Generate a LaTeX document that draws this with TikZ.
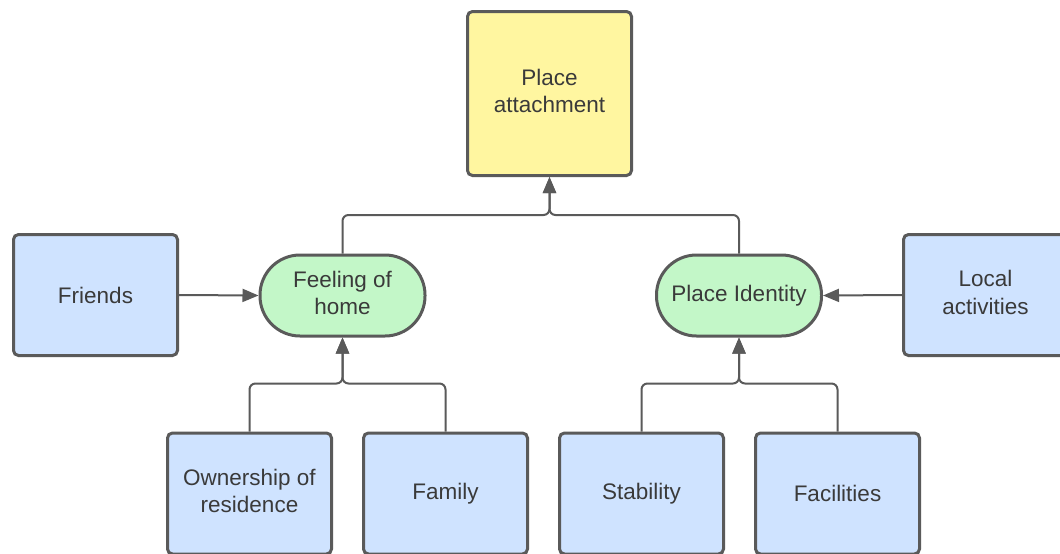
\documentclass[tikz,border=0pt]{standalone}
\usepackage{fontspec}
\setmainfont{Liberation Sans}
\usetikzlibrary{arrows.meta,calc}
\definecolor{strk}{HTML}{5A5A5A}
\definecolor{txt}{HTML}{3A3A3A}
\definecolor{bluef}{HTML}{CFE3FF}
\definecolor{greenf}{HTML}{C3F7C8}
\definecolor{yellowf}{HTML}{FFF6A0}
\newcommand{\dstr}{\rule[-5pt]{0pt}{1pt}}
\tikzset{
  base/.style={draw=strk, line width=3pt, text=txt, align=center,
    font=\fontsize{22.5}{27.5}\selectfont, inner sep=0pt},
  bluebox/.style={base, fill=bluef, rounded corners=5pt, minimum width=164pt, minimum height=121pt},
  yellowbox/.style={base, fill=yellowf, rounded corners=5pt, minimum width=164pt, minimum height=164pt},
  pill/.style={base, fill=greenf, rounded corners=40pt, minimum width=165pt, minimum height=81pt},
  conn/.style={draw=strk, line width=2pt, rounded corners=6pt},
  arr/.style={conn, -{Triangle[length=16pt,width=13pt]}}
}
\begin{document}
\begin{tikzpicture}[x=1pt,y=-1pt]
\clip (0,0) rectangle (1060,554);
\fill[white] (0,0) rectangle (1060,554);
\node[yellowbox] (pa) at (549.5,93.5) {Place\\attachment\dstr};
\node[bluebox] (fr) at (95.5,295) {Friends};
\node[pill] (foh) at (342.5,295.5) {Feeling of\\home\dstr};
\node[pill] (pi) at (739,295.5) {Place Identity};
\node[bluebox] (la) at (985.5,295) {Local\\activities\dstr};
\node[bluebox] (own) at (249.5,493.5) {Ownership of\\residence\dstr};
\node[bluebox] (fam) at (445.5,493.5) {Family};
\node[bluebox] (stab) at (641.5,493.5) {Stability};
\node[bluebox] (fac) at (837.5,493.5) {Facilities};
\coordinate (j1) at ($(pa.south)+(0,38)$);
\coordinate (j2) at ($(foh.south)+(0,46)$);
\coordinate (j3) at ($(pi.south)+(0,46)$);
\draw[arr] (fr.east) -- (foh.west);
\draw[arr] (la.west) -- (pi.east);
\draw[arr] (foh.north) |- (j1) -- (pa.south);
\draw[arr] (pi.north) |- (j1) -- (pa.south);
\draw[arr] (own.north) |- (j2) -- (foh.south);
\draw[arr] (fam.north) |- (j2) -- (foh.south);
\draw[arr] (stab.north) |- (j3) -- (pi.south);
\draw[arr] (fac.north) |- (j3) -- (pi.south);
\end{tikzpicture}
\end{document}
